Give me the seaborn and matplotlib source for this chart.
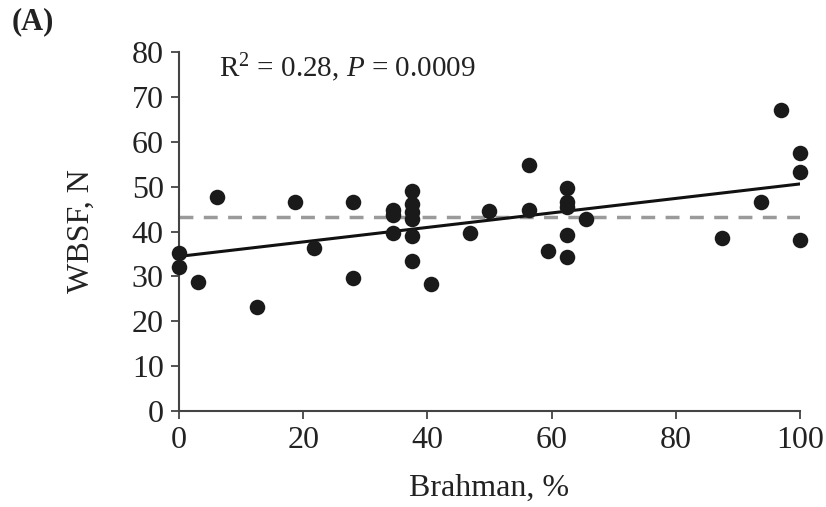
import numpy as np
import pandas as pd
import matplotlib
matplotlib.use("Agg")
import matplotlib.pyplot as plt
import seaborn as sns

# Brahman percentage and WBSF values
brahman = [0, 0, 3.1, 6.2, 12.5, 18.7, 21.8, 28.0, 28.0,
           34.4, 34.4, 34.4, 37.5, 37.5, 37.5, 37.5, 37.5, 37.5,
           40.6, 46.9, 50.0, 56.3, 56.3, 59.4, 62.5, 62.5, 62.5,
           62.5, 62.5, 65.6, 87.5, 93.8, 96.9, 100, 100, 100]
wbsf = [35.3, 32.0, 28.7, 47.8, 23.2, 46.6, 36.4, 46.6, 29.7,
        44.9, 43.7, 39.7, 49.1, 46.1, 44.4, 42.9, 39.0, 33.4,
        28.2, 39.7, 44.6, 54.8, 44.9, 35.7, 49.8, 46.6, 45.5,
        39.2, 34.4, 42.7, 38.6, 46.6, 67.1, 57.6, 53.3, 38.1]
mean_line = 43.2
x_ticks = [0, 20, 40, 60, 80, 100]
y_ticks = [0, 10, 20, 30, 40, 50, 60, 70, 80]

df = pd.DataFrame({"Brahman": brahman, "WBSF": wbsf})

sns.set_theme(style="ticks")
plt.rcParams['font.family'] = ['Liberation Serif', 'DejaVu Serif']
plt.rcParams['mathtext.fontset'] = 'custom'
plt.rcParams['mathtext.rm'] = 'Liberation Serif'
plt.rcParams['mathtext.it'] = 'Liberation Serif:italic'

fig = plt.figure(figsize=(8.26, 5.07), dpi=100)
ax = fig.add_axes([0.2167, 0.1893, 0.7518, 0.7081])

# mean reference line
ax.plot([0, 100], [mean_line, mean_line], color="#9a9a9a", lw=2.5,
        dashes=(4, 3), zorder=1)

sns.regplot(data=df, x="Brahman", y="WBSF", ax=ax, ci=None, truncate=True,
            scatter_kws={"s": 125, "color": "#1a1a1a", "alpha": 1,
                         "clip_on": False, "zorder": 3, "linewidths": 0},
            line_kws={"color": "#111111", "lw": 2.2, "zorder": 2})

ax.set_xlim(0, 100)
ax.set_ylim(0, 80)
ax.set_xticks(x_ticks)
ax.set_yticks(y_ticks)
ax.tick_params(labelsize=23, length=6, width=1.3, color="#444444",
               labelcolor="#222222", pad=5)
for side in ["top", "right"]:
    ax.spines[side].set_visible(False)
for side in ["left", "bottom"]:
    ax.spines[side].set_color("#444444")
    ax.spines[side].set_linewidth(1.5)

ax.set_xlabel("Brahman, %", fontsize=23, color="#222222", labelpad=13)
ax.set_ylabel("WBSF, N", fontsize=23, color="#222222", labelpad=26)

ax.text(6.5, 76.5, r"R$^2$ = 0.28, $P$ = 0.0009", fontsize=21,
        color="#222222", va="center", ha="left")
fig.text(0.014, 0.957, "(A)", fontsize=22, fontweight="bold",
         color="#222222", va="center", ha="left")

fig.savefig("out.png", dpi=100)
